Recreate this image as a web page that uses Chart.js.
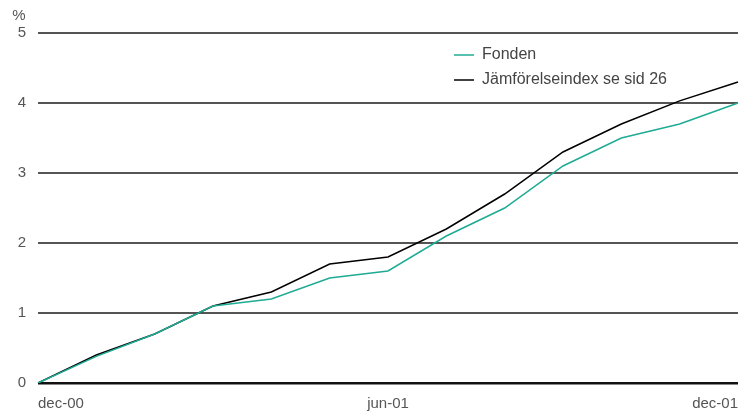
<!DOCTYPE html>
<html>
<head>
<meta charset="utf-8">
<script src="https://cdn.jsdelivr.net/npm/chart.js@4"></script>
<style>
  body { margin: 0; background: #fff; }
  #wrap { width: 750px; height: 416px; }
</style>
</head>
<body>
<div id="wrap"><canvas id="chart"></canvas></div>
<script>
const months = ["dec-00", "jan-01", "feb-01", "mar-01", "apr-01", "maj-01", "jun-01",
  "jul-01", "aug-01", "sep-01", "okt-01", "nov-01", "dec-01"];
const shownLabels = ["dec-00", "jun-01", "dec-01"];
const fonden = [0, 0.38, 0.7, 1.1, 1.2, 1.5, 1.6, 2.1, 2.5, 3.1, 3.5, 3.7, 4.0];
const index = [0, 0.4, 0.7, 1.1, 1.3, 1.7, 1.8, 2.2, 2.7, 3.3, 3.7, 4.03, 4.3];
const yTicks = [0, 1, 2, 3, 4, 5];

const FONT = "'Liberation Sans', Arial, sans-serif";
const TEAL = "#1fab94";

const extras = {
  id: "extras",
  afterDraw(chart) {
    const ctx = chart.ctx;
    ctx.save();
    ctx.font = "15px " + FONT;
    ctx.fillStyle = "#555";
    ctx.textAlign = "center";
    ctx.textBaseline = "middle";
    ctx.fillText("%", 19, 16);

    // legend
    ctx.font = "16px " + FONT;
    ctx.textAlign = "left";
    ctx.fillStyle = "#444";
    chart.data.datasets.forEach((ds, i) => {
      const y = 55 + i * 25;
      ctx.strokeStyle = ds.borderColor;
      ctx.lineWidth = 1.5;
      ctx.beginPath();
      ctx.moveTo(454, y);
      ctx.lineTo(474, y);
      ctx.stroke();
      ctx.fillText(ds.label, 482, y);
    });
    ctx.restore();
  }
};

new Chart(document.getElementById("chart"), {
  type: "line",
  data: {
    labels: months,
    datasets: [
      { label: "Fonden", data: fonden, borderColor: TEAL, borderWidth: 1.5, pointRadius: 0, tension: 0 },
      { label: "Jämförelseindex se sid 26", data: index, borderColor: "#000", borderWidth: 1.5, pointRadius: 0, tension: 0 }
    ]
  },
  options: {
    responsive: true,
    maintainAspectRatio: false,
    animation: false,
    layout: { padding: { top: 33, right: 8, left: 0, bottom: 0 } },
    plugins: { legend: { display: false }, tooltip: { enabled: false } },
    scales: {
      x: {
        type: "category",
        offset: false,
        grid: { display: false, drawTicks: false },
        border: { display: false },
        afterFit(scale) { scale.height = 33; },
        ticks: {
          autoSkip: false,
          maxRotation: 0,
          align: "inner",
          padding: 12,
          color: "#555",
          font: { family: FONT, size: 15 },
          callback(v, i) {
            const l = months[i];
            return shownLabels.includes(l) ? l : "";
          }
        }
      },
      y: {
        min: 0,
        max: 5,
        afterFit(scale) { scale.width = 38; },
        afterBuildTicks(scale) { scale.ticks = yTicks.map(v => ({ value: v })); },
        grid: {
          drawTicks: false,
          color: ctx => ctx.tick && ctx.tick.value === 0 ? "#111" : "#555",
          lineWidth: ctx => ctx.tick && ctx.tick.value === 0 ? 2.5 : 2
        },
        border: { display: false },
        ticks: {
          padding: 12,
          color: "#555",
          font: { family: FONT, size: 15 }
        }
      }
    }
  },
  plugins: [extras]
});
</script>
</body>
</html>
